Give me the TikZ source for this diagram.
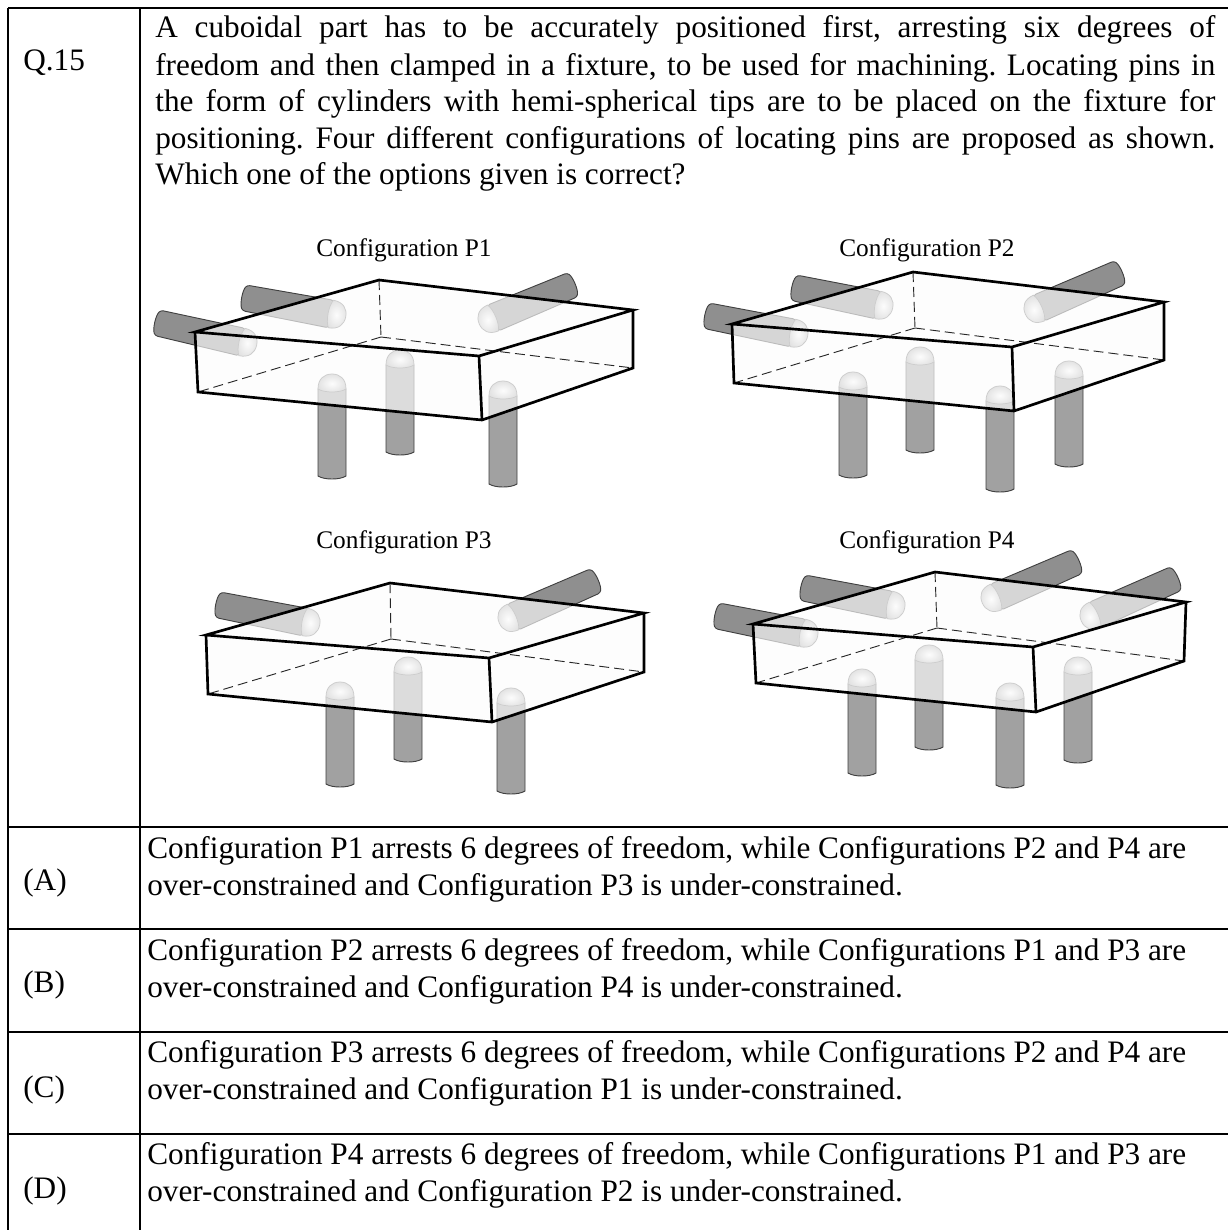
\documentclass[tikz,border=0pt]{standalone}
\usepackage{fontspec}
\setmainfont{Liberation Serif}
\frenchspacing
\newcommand{\mainsize}{\fontsize{18.75pt}{22pt}\selectfont}
\newcommand{\figsize}{\fontsize{15.2pt}{18pt}\selectfont}
% pin: style, shoulder centre (sx,sy), far end centre (ex,ey), half width at far end
\newcommand{\pinat}[6]{%
  \pgfmathsetmacro{\pinang}{atan2((#4)-(#2),(#5)-(#3))}%
  \pgfmathsetmacro{\pinlen}{veclen((#4)-(#2),(#5)-(#3))}%
  \begin{scope}[shift={(#2,#3)},rotate=\pinang]
    \path[#1] (-14,0) -- (-#6,\pinlen) .. controls (-#6+6,\pinlen+4) and (#6-6,\pinlen+4) .. (#6,\pinlen) -- (14,0) -- cycle;
    \path[pintip] (-14,0) .. controls (-14,-10) and (-8,-15) .. (0,-15) .. controls (8,-15) and (14,-10) .. (14,0) .. controls (8,4) and (-8,4) .. (-14,0) -- cycle;
  \end{scope}}
\newcommand{\vpin}[3]{\pinat{pinbody}{#1}{#2+14}{#1}{#3-3}{14}}
\newcommand{\hpin}[4]{\pinat{hpinbody}{#1}{#2}{#3}{#4}{13}}
% cuboid: top A B C D, bottom E F G H
\newcommand{\cuboid}[8]{%
  \fill[black!1,fill opacity=.66] #1 -- #2 -- #3 -- #7 -- #6 -- #5 -- cycle;
  \draw[hidden] #2 -- #8 #8 -- #5 #8 -- #7;
  \draw[edge] #1 -- #2 -- #3 -- #4 -- cycle #1 -- #5 -- #6 -- #7 -- #3 #4 -- #6;}
\newcommand{\jline}[3]{\node[txt] (#1) at (155,#2) {\hbox to 636pt{#3}};}
\begin{document}
\begin{tikzpicture}[x=0.6pt,y=-0.6pt,
  pinbody/.style={draw=black!75,line width=.55pt,fill=black!37},
  hpinbody/.style={draw=black!75,line width=.55pt,fill=black!44,rounded corners=1.5pt},
  pintip/.style={draw=black!55,line width=.45pt,inner color=white,outer color=black!30},
  hidden/.style={draw=black!85,line width=.55pt,dash pattern=on 6pt off 3pt},
  edge/.style={draw=black,line width=1.6pt,line join=miter},
  rule/.style={draw=black,line width=1.2pt},
  txt/.style={anchor=base west,inner sep=0pt,font=\mainsize},
  figlab/.style={anchor=base west,inner sep=0pt,font=\figsize}]
\useasboundingbox (0,0) rectangle (1228,1230);
\fill[white] (0,0) rectangle (1228,1230);

% table rules
\coordinate (tl) at (8,7.5); \coordinate (tr) at (1228,7.5);
\coordinate (bl) at (8,1230); \coordinate (cb) at (140,1230); \coordinate (ct) at (140,7.5);
\draw[rule] (tl) -- (tr) (tl) -- (bl) (ct) -- (cb);
\draw[rule] (8,827) -- (1228,827) (8,928.5) -- (1228,928.5) (8,1032) -- (1228,1032) (8,1134) -- (1228,1134);

% question
\node[txt] (q) at (23,70) {Q.15};
\jline{l1}{38}{A cuboidal part has to be accurately positioned first, arresting six degrees of}
\jline{l2}{75}{freedom and then clamped in a fixture, to be used for machining. Locating pins in}
\jline{l3}{111.5}{the form of cylinders with hemi-spherical tips are to be placed on the fixture for}
\jline{l4}{148}{positioning. Four different configurations of locating pins are proposed as shown.}
\node[txt] (l5) at (155,184) {Which one of the options given is correct?};

% P1
\node[figlab] (p1) at (316,256) {Configuration P1};
\hpin{242}{342}{158}{323}
\hpin{331}{314}{245}{298}
\hpin{493}{318}{572}{285}
\vpin{332}{375}{479}
\vpin{400}{351}{455}
\vpin{503}{382}{487}
\cuboid{(195,332)}{(379,280)}{(633,310)}{(479,356)}{(198,392)}{(482,420)}{(633,368)}{(381,337)}

% P2
\node[figlab] (p2) at (839,256) {Configuration P2};
\hpin{793}{333}{708}{316}
\hpin{878}{305}{795}{288}
\hpin{1039}{308}{1119}{273}
\vpin{853}{373}{478}
\vpin{920}{348}{453}
\vpin{1000}{387}{492}
\vpin{1069}{362}{467}
\cuboid{(732,324)}{(913,272)}{(1164,302)}{(1012,347)}{(734,383)}{(1014,411)}{(1164,360)}{(915,328)}

% P3
\node[figlab] (p3) at (316,548) {Configuration P3};
\hpin{305}{622}{219}{605}
\hpin{513}{617}{595}{581}
\vpin{340}{683}{787}
\vpin{408}{658}{762}
\vpin{511}{689}{794}
\cuboid{(206,635)}{(390,583)}{(644,613)}{(489,658)}{(208,694)}{(492,722)}{(644,672)}{(391,639)}

% P4
\node[figlab] (p4) at (839,548) {Configuration P4};
\hpin{803}{633}{718}{616}
\hpin{890}{605}{804}{588}
\hpin{996}{597}{1076}{562}
\hpin{1095}{615}{1175}{579}
\vpin{862}{670}{776}
\vpin{929}{646}{750}
\vpin{1010}{684}{788}
\vpin{1078}{658}{763}
\cuboid{(753,624)}{(935,572)}{(1186,602)}{(1033,647)}{(756,683)}{(1036,712)}{(1184,661)}{(937,628)}

% options
\node[txt] (a) at (23,890) {(A)};
\node[txt] (a1) at (147,858) {Configuration P1 arrests 6 degrees of freedom, while Configurations P2 and P4 are};
\node[txt] (a2) at (147,895) {over-constrained and Configuration P3 is under-constrained.};
\node[txt] (b) at (23,992) {(B)};
\node[txt] (b1) at (147,960) {Configuration P2 arrests 6 degrees of freedom, while Configurations P1 and P3 are};
\node[txt] (b2) at (147,997) {over-constrained and Configuration P4 is under-constrained.};
\node[txt] (c) at (23,1097) {(C)};
\node[txt] (c1) at (147,1062) {Configuration P3 arrests 6 degrees of freedom, while Configurations P2 and P4 are};
\node[txt] (c2) at (147,1099) {over-constrained and Configuration P1 is under-constrained.};
\node[txt] (d) at (23,1198) {(D)};
\node[txt] (d1) at (147,1164) {Configuration P4 arrests 6 degrees of freedom, while Configurations P1 and P3 are};
\node[txt] (d2) at (147,1201) {over-constrained and Configuration P2 is under-constrained.};
\end{tikzpicture}
\end{document}
